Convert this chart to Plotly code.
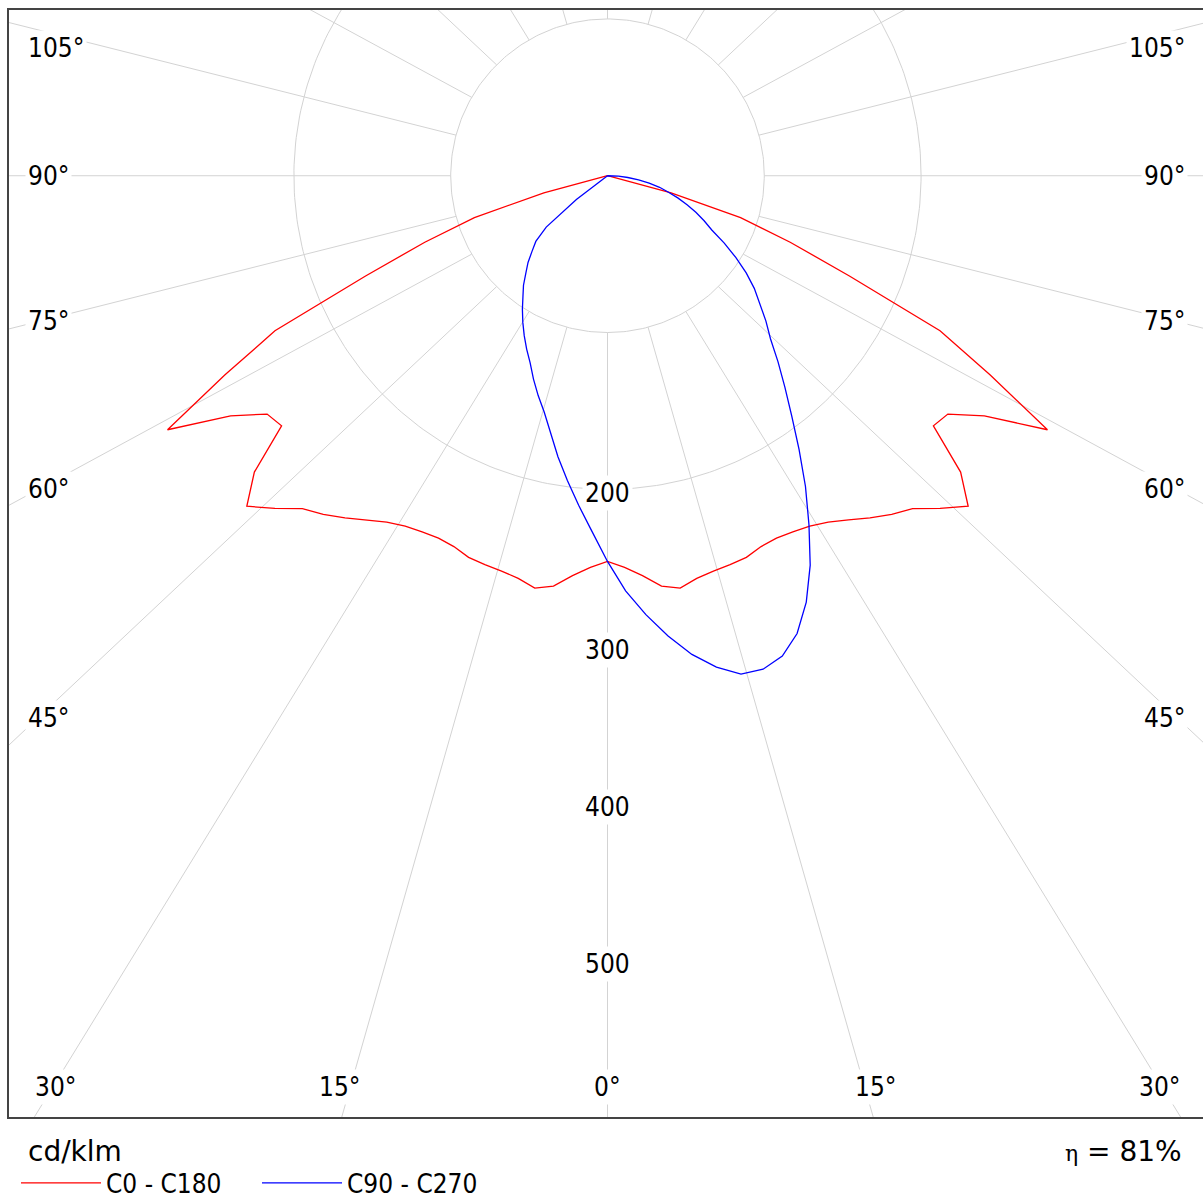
import numpy as np
import plotly.graph_objects as go

# Luminous intensity distribution, cd/klm, gamma measured from nadir (degrees)
gamma_c0_c180 = [0, 2.5, 5, 7.5, 10, 12.5, 15, 17.5, 20, 22.5, 25, 27.5, 30, 32.5,
                 35, 37.5, 40, 42.5, 45, 47.5, 50, 52.5, 55, 57.5, 60, 62.5, 65,
                 67.5, 70, 72.5, 75, 77.5, 80, 82.5, 85, 87.5, 90]
intensity_c0_c180 = [246, 250, 256, 264, 267, 263, 261, 260, 259, 256, 255, 256,
                     258, 262, 268, 275, 282, 288, 300, 312, 294, 262, 265, 285,
                     324, 275, 234, 167, 124, 89, 42, 0, 0, 0, 0, 0, 0]

# C90 - C270 plane: negative gamma is the C270 half, positive the C90 half
gamma_c90_c270 = [-90, -87.5, -85, -82.5, -80, -77.5, -75, -72.5, -70, -67.5, -65,
                  -62.5, -60, -57.5, -55, -52.5, -50, -47.5, -45, -42.5, -40,
                  -37.5, -35, -32.5, -30, -27.5, -25, -22.5, -20, -17.5, -15,
                  -12.5, -10, -7.5, -5, -2.5, 0, 2.5, 5, 7.5, 10, 12.5, 15, 17.5,
                  20, 22.5, 25, 27.5, 30, 32.5, 35, 37.5, 40, 42.5, 45, 47.5, 50,
                  52.5, 55, 57.5, 60, 62.5, 65, 67.5, 70, 72.5, 75, 77.5, 80, 82.5,
                  85, 87.5, 90]
intensity_c90_c270 = [0, 0, 0, 0, 0, 0, 0, 0, 0, 0, 0, 0, 0, 0, 0, 25, 51, 62, 68,
                      75, 81, 88, 94, 101, 108, 115, 122, 129, 138, 147, 156, 168,
                      182, 196, 211, 227, 246, 265, 281, 296, 310, 321, 329, 330,
                      326, 316, 300, 280, 257, 235, 213, 193, 176, 161, 147, 137,
                      127, 118, 108, 97, 86, 75, 68, 61, 54, 47, 40, 34, 27, 20,
                      13, 7, 0]

ring_values = [100, 200]
radial_tick_values = [200, 300, 400, 500]
radial_tick_labels = ["200", "300", "400", "500"]
spoke_angles = list(range(0, 360, 15))
side_label_angles = [105, 90, 75, 60, 45]
bottom_label_angles = [-30, -15, 0, 15, 30]

series_names = ["C0 - C180", "C90 - C270"]
series_colors = ["#ff0000", "#0000ff"]
unit_text = "cd/klm"
efficiency_text = "81%"

GRID = "#d3d3d3"
INNER_RING = ring_values[0]
SPOKE_ASPECT = 0.94          # vertical squeeze of the spokes (frame height / width)
SIDE_LABEL_ASPECT = 0.955    # squeeze used to place the edge labels
BOTTOM_LABEL_ASPECT = 0.895
X_RANGE = [-381.7, 379.8]
Y_RANGE = [-600.3, 105.7]
SIDE_LABEL_X = 358.7
SIDE_LABEL_TOP = 81.4
BOTTOM_LABEL_Y = -581.2
LABEL_FONT = dict(family="DejaVu Sans Condensed, DejaVu Sans, sans-serif",
                  size=26, color="black")


def to_xy(gamma_deg, values):
    g = np.radians(np.asarray(gamma_deg, dtype=float))
    r = np.asarray(values, dtype=float)
    return r * np.sin(g), -r * np.cos(g)


# full C0-C180 curve: the C180 half mirrors the C0 half
red_gamma = [-g for g in gamma_c0_c180[::-1]] + gamma_c0_c180[1:]
red_values = intensity_c0_c180[::-1] + intensity_c0_c180[1:]
red_x, red_y = to_xy(red_gamma, red_values)
blue_x, blue_y = to_xy(gamma_c90_c270, intensity_c90_c270)

# concentric rings
ring_x, ring_y = [], []
circle = np.linspace(0, 360, 361)
for rv in ring_values:
    cx, cy = to_xy(circle, [rv] * len(circle))
    ring_x += list(cx) + [None]
    ring_y += list(cy) + [None]

# spokes from the inner ring outward
spoke_x, spoke_y = [], []
for a in spoke_angles:
    t = np.radians(a)
    x0, y0 = INNER_RING * np.sin(t), -INNER_RING * np.cos(t)
    length = 1500
    spoke_x += [x0, x0 + length * np.sin(t), None]
    spoke_y += [y0, y0 - length * SPOKE_ASPECT * np.cos(t), None]

fig = go.Figure()
fig.add_trace(go.Scatter(x=ring_x, y=ring_y, mode="lines",
                         line=dict(color=GRID, width=1), hoverinfo="skip",
                         showlegend=False))
fig.add_trace(go.Scatter(x=spoke_x, y=spoke_y, mode="lines",
                         line=dict(color=GRID, width=1), hoverinfo="skip",
                         showlegend=False))
fig.add_trace(go.Scatter(x=red_x, y=red_y, mode="lines", name=series_names[0],
                         line=dict(color=series_colors[0], width=1.3)))
fig.add_trace(go.Scatter(x=blue_x, y=blue_y, mode="lines", name=series_names[1],
                         line=dict(color=series_colors[1], width=1.3)))

annotations = []
label_box = dict(bgcolor="white", borderpad=2, showarrow=False, font=LABEL_FONT)

# angle labels on the left and right edges
for a in side_label_angles:
    t = np.radians(a)
    s = (SIDE_LABEL_X - INNER_RING * np.sin(t)) / np.sin(t)
    y = -(INNER_RING * np.cos(t) + s * SIDE_LABEL_ASPECT * np.cos(t))
    y = min(y, SIDE_LABEL_TOP)
    annotations.append(dict(x=X_RANGE[0] + 10.2, y=y, xref="x", yref="y",
                            text=f"{a}°", xanchor="left", yanchor="middle",
                            **label_box))
    annotations.append(dict(x=370.2, y=y, xref="x", yref="y",
                            text=f"{a}°", xanchor="right", yanchor="middle",
                            **label_box))

# angle labels along the bottom edge
for a in bottom_label_angles:
    t = np.radians(a)
    s = (-BOTTOM_LABEL_Y - INNER_RING * np.cos(t)) / (BOTTOM_LABEL_ASPECT * np.cos(t))
    x = (INNER_RING + s) * np.sin(t)
    x = max(min(x, 352.0), -352.0)
    annotations.append(dict(x=x, y=BOTTOM_LABEL_Y, xref="x", yref="y",
                            text=f"{abs(a)}°", xanchor="center", yanchor="middle",
                            **label_box))

# intensity scale along the nadir spoke
for v, lab in zip(radial_tick_values, radial_tick_labels):
    annotations.append(dict(x=0, y=-v, xref="x", yref="y", text=lab,
                            xanchor="center", yanchor="middle", yshift=-4,
                            **label_box))

annotations.append(dict(x=0.0142, y=-0.031, xref="paper", yref="paper",
                        text=unit_text, xanchor="left", yanchor="middle",
                        showarrow=False,
                        font=dict(family="DejaVu Sans, sans-serif", size=28,
                                  color="black")))
annotations.append(dict(x=0.9841, y=-0.031, xref="paper", yref="paper",
                        text=("<span style=\"font-family:'DejaVu Serif';"
                              "font-size:22px\">η</span> = " + efficiency_text),
                        xanchor="right", yanchor="middle", showarrow=False,
                        font=dict(family="DejaVu Sans, sans-serif", size=28,
                                  color="black")))

axis_common = dict(showgrid=False, zeroline=False, showticklabels=False,
                   ticks="", showline=True, linecolor="#444", linewidth=1.5,
                   fixedrange=True)

fig.update_layout(
    width=1203, height=1201,
    margin=dict(l=9, r=0, t=10, b=84, pad=0),
    paper_bgcolor="white", plot_bgcolor="white",
    xaxis=dict(range=X_RANGE, mirror=True, **axis_common),
    yaxis=dict(range=Y_RANGE, mirror=False, **axis_common),
    annotations=annotations,
    showlegend=True,
    legend=dict(orientation="h", xref="container", yref="container",
                x=16 / 1203, y=1 - 1183 / 1201, xanchor="left",
                yanchor="middle", itemwidth=80, entrywidthmode="pixels",
                entrywidth=146, bgcolor="rgba(0,0,0,0)",
                font=dict(family="DejaVu Sans Condensed, DejaVu Sans, sans-serif",
                          size=26, color="black")),
)

fig.write_html("out.html")
